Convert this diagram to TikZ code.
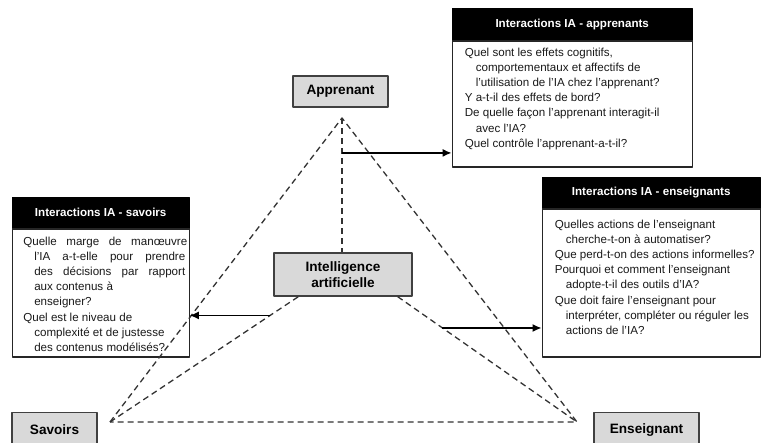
\documentclass[tikz,border=0pt]{standalone}
\usepackage{fontspec}
\setmainfont{Liberation Sans}
\usetikzlibrary{positioning,calc,arrows.meta}
\tikzset{
	pole/.style={draw=black!75,fill=gray!30,line width=1.3pt,align=center,inner sep=0pt,font=\fontsize{13.6}{15.5}\selectfont\bfseries},
	titre/.style={draw=black,fill=black,text=white,inner sep=0pt,anchor=north west,font=\fontsize{11.6}{14}\selectfont\bfseries},
	corps/.style={draw=black!85,line width=1.2pt,inner sep=0pt},
	texte/.style={align=left,inner sep=0pt,anchor=north west,text=black!90,font=\fontsize{11.6}{15.2}\selectfont},
	tiret/.style={dash pattern=on 6pt off 4pt,line width=1.3pt,black!80},
	fleche/.style={-{Latex[length=9pt,width=8pt]},line width=1.5pt}
}
\newcommand{\ret}{\\\hspace*{11pt}}
\begin{document}
\begin{tikzpicture}[x=1pt,y=-1pt,line join=round]
		\clip (0,0) rectangle (762,442);
		%==sommets du triangle
		\coordinate (A) at (342,118);
		\coordinate (S) at (110,422);
		\coordinate (E) at (577,422);
		%==les quatre pôles
		\node[pole,minimum width=95pt,minimum height=31pt] (app) at (340.5,91.5) {Apprenant};
		\node[pole,minimum width=138pt,minimum height=43pt] (IA) at (343,274.5) {Intelligence\\artificielle};
		\node[pole,minimum width=85pt,minimum height=34pt,anchor=north] (sav) at (54.5,412) {Savoirs};
		\node[pole,minimum width=105pt,minimum height=34pt,anchor=north] (ens) at (646.5,412) {Enseignant};
		%==encadré apprenants
		\node[titre,minimum width=240pt,minimum height=32pt] (tApp) at (452,8) {Interactions IA - apprenants};
		\node[corps,minimum width=240pt,minimum height=126pt,below=0pt of tApp] (cApp) {};
		\node[texte] (qApp) at ([shift={(13pt,-7pt)}]cApp.north west) {Quel sont les effets cognitifs,\ret comportementaux et affectifs de\ret l'utilisation de l'IA chez l'apprenant?\\Y a-t-il des effets de bord?\\De quelle façon l'apprenant interagit-il\ret avec l'IA?\\Quel contrôle l'apprenant-a-t-il?};
		%==encadré enseignants
		\node[titre,minimum width=218pt,minimum height=31pt] (tEns) at (542,177) {Interactions IA - enseignants};
		\node[corps,minimum width=218pt,minimum height=148pt,below=0pt of tEns] (cEns) {};
		\node[texte] (qEns) at ([shift={(13pt,-11pt)}]cEns.north west) {Quelles actions de l'enseignant\ret cherche-t-on à automatiser?\\Que perd-t-on des actions informelles?\\Pourquoi et comment l'enseignant\ret adopte-t-il des outils d'IA?\\Que doit faire l'enseignant pour\ret interpréter, compléter ou réguler les\ret actions de l'IA?};
		%==encadré savoirs
		\node[titre,minimum width=177pt,minimum height=31pt] (tSav) at (12,197) {Interactions IA - savoirs};
		\node[corps,minimum width=177pt,minimum height=128pt,below=0pt of tSav] (cSav) {};
		\node[texte] (qSav) at ([shift={(11.5pt,-8pt)}]cSav.north west) {\makebox[164pt][s]{Quelle marge de manœuvre}\ret \makebox[151pt][s]{l'IA a-t-elle pour prendre}\ret \makebox[151pt][s]{des décisions par rapport}\ret aux contenus à\ret enseigner?\\Quel est le niveau de\ret complexité et de justesse\ret des contenus modélisés?};
		%==triangle en pointillés
		\coordinate (iaG) at ([xshift=25pt]IA.south west);
		\coordinate (iaD) at ([xshift=-15pt]IA.south east);
		\draw[tiret] (S)--(A)--(E)--cycle;
		\draw[tiret] (A)--(A|-IA.north);
		\draw[tiret] (S)--(iaG) (iaD)--(E);
		%==flèches vers les encadrés
		\coordinate (pA) at ($(A)!0.26!(A|-IA.north)$);
		\coordinate (pS) at ($(iaG)!0.15!(S)$);
		\coordinate (pE) at ($(iaD)!0.25!(E)$);
		\draw[fleche] (pA)--(pA-|cApp.west);
		\draw[fleche] (pS)--(pS-|cSav.east);
		\draw[fleche] (pE)--(pE-|cEns.west);
\end{tikzpicture}
\end{document}
